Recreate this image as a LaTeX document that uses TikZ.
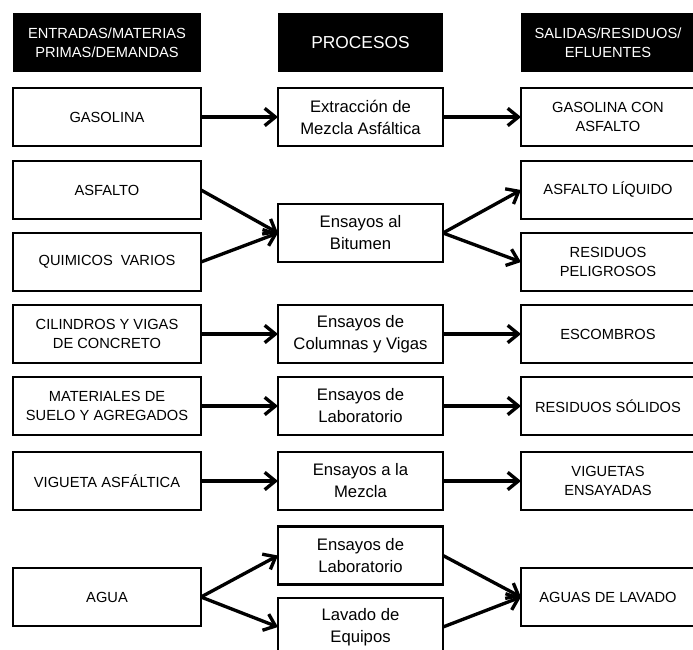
\documentclass[tikz,border=0pt]{standalone}
\usepackage{fontspec}
\setmainfont{Liberation Sans}
\usepackage{tikz}
\usetikzlibrary{arrows.meta}

\tikzset{
  entrada/.style={draw, line width=1.6pt, align=center, outer sep=0pt, inner sep=2pt,
    minimum width=141pt, minimum height=43.5pt, font=\fontsize{11}{14.5}\selectfont},
  proceso/.style={entrada, minimum width=123.75pt, font=\fontsize{12.5}{16.5}\selectfont},
  salida/.style={entrada, minimum width=130.5pt},
  titulo/.style={fill=black, text=white, align=center, outer sep=0pt, minimum height=44.25pt},
  flecha/.style={line width=2.5pt, -{Straight Barb[length=8pt, width=13pt]}}
}

\begin{document}
\begin{tikzpicture}[x=0.75pt, y=-0.75pt]
            \useasboundingbox (0,0) rectangle (693,650);
            \clip (0,0) rectangle (693,650);

            \node[titulo, minimum width=141pt, font=\fontsize{11}{14.5}\selectfont] (tentrada) at (107,42.5) {ENTRADAS/MATERIAS\\PRIMAS/DEMANDAS};
            \node[titulo, minimum width=123.75pt, font=\fontsize{13}{16.5}\selectfont] (tproceso) at (360.5,42.5) {PROCESOS};
            \node[titulo, minimum width=130.5pt, font=\fontsize{11}{14.5}\selectfont] (tsalida) at (608,42.5) {SALIDAS/RESIDUOS/\\EFLUENTES};

            \node[entrada] (gasolina) at (107,117) {GASOLINA};
            \node[entrada] (asfalto) at (107,190) {ASFALTO};
            \node[entrada] (quimicos) at (107,262) {QUIMICOS\ \ VARIOS};
            \node[entrada] (cilindros) at (107,334) {CILINDROS Y VIGAS\\DE CONCRETO};
            \node[entrada] (materiales) at (107,406) {MATERIALES DE\\SUELO Y AGREGADOS};
            \node[entrada] (vigueta) at (107,481) {VIGUETA ASFÁLTICA};
            \node[entrada] (agua) at (107,597) {AGUA};

            \node[proceso] (extraccion) at (360.5,117) {Extracción de\\Mezcla Asfáltica};
            \node[proceso] (bitumen) at (360.5,233) {Ensayos al\\Bitumen};
            \node[proceso] (columnas) at (360.5,334) {Ensayos de\\Columnas y Vigas};
            \node[proceso] (laboratorio) at (360.5,406) {Ensayos de\\Laboratorio};
            \node[proceso] (mezcla) at (360.5,481) {Ensayos a la\\Mezcla};
            \node[proceso] (labagua) at (360.5,555.5) {Ensayos de\\Laboratorio};
            \node[proceso] (lavado) at (360.5,627) {Lavado de\\Equipos};

            \node[salida] (gasasfalto) at (608,117) {GASOLINA CON\\ASFALTO};
            \node[salida] (liquido) at (608,190) {ASFALTO LÍQUIDO};
            \node[salida] (peligrosos) at (608,262) {RESIDUOS\\PELIGROSOS};
            \node[salida] (escombros) at (608,334) {ESCOMBROS};
            \node[salida] (solidos) at (608,406) {RESIDUOS SÓLIDOS};
            \node[salida] (viguetas) at (608,481) {VIGUETAS\\ENSAYADAS};
            \node[salida] (aguaslavado) at (608,597) {AGUAS DE LAVADO};

            \draw[flecha] (gasolina.east) -- (extraccion.west);
            \draw[flecha] (extraccion.east) -- (gasasfalto.west);

            \draw[flecha] (asfalto.east) -- (bitumen.west);
            \draw[flecha] (quimicos.east) -- (bitumen.west);
            \draw[flecha] (bitumen.east) -- (liquido.west);
            \draw[flecha] (bitumen.east) -- (peligrosos.west);

            \draw[flecha] (cilindros.east) -- (columnas.west);
            \draw[flecha] (columnas.east) -- (escombros.west);

            \draw[flecha] (materiales.east) -- (laboratorio.west);
            \draw[flecha] (laboratorio.east) -- (solidos.west);

            \draw[flecha] (vigueta.east) -- (mezcla.west);
            \draw[flecha] (mezcla.east) -- (viguetas.west);

            \draw[flecha] (agua.east) -- (labagua.west);
            \draw[flecha] (agua.east) -- (lavado.west);
            \draw[flecha] (labagua.east) -- (aguaslavado.west);
            \draw[flecha] (lavado.east) -- (aguaslavado.west);
        \end{tikzpicture}
\end{document}
